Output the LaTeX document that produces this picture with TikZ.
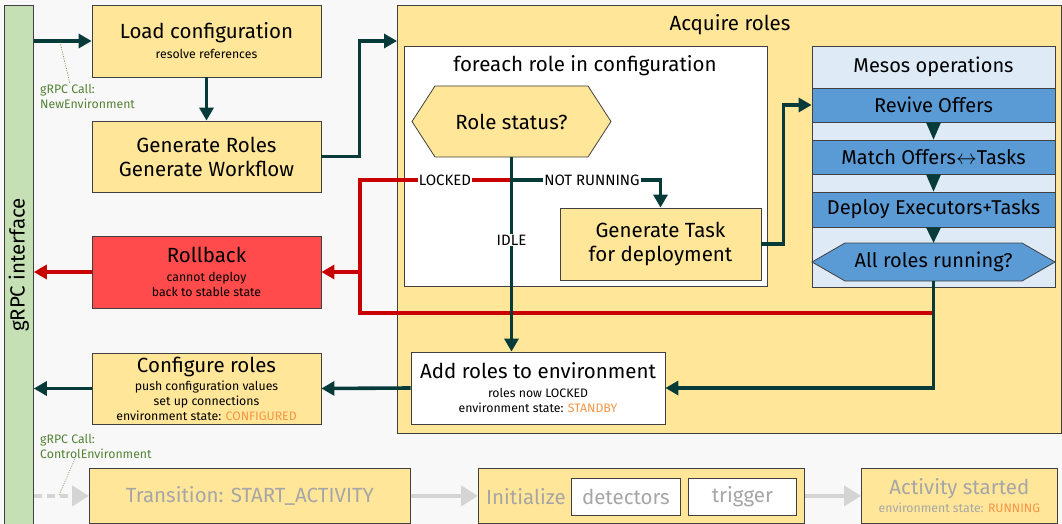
\documentclass[tikz,border=0pt]{standalone}
\usepackage{fontspec}
\setmainfont{Fira Sans}
\usetikzlibrary{arrows.meta,calc}

\definecolor{bgc}{HTML}{F8F8F8}
\definecolor{yel}{HTML}{FFE699}
\definecolor{grn}{HTML}{C5E0B4}
\definecolor{rbfill}{HTML}{FF4B4B}
\definecolor{teal}{HTML}{073B3A}
\definecolor{redl}{HTML}{C80000}
\definecolor{blu}{HTML}{5B9BD5}
\definecolor{lblu}{HTML}{DEEBF7}
\definecolor{orng}{HTML}{F79646}
\definecolor{lbl}{HTML}{548235}
\definecolor{faded}{HTML}{A6A6A6}
\definecolor{garrow}{HTML}{D4D4D4}
\definecolor{edge}{HTML}{404040}

\newcommand\bigf{\fontsize{20.5}{24}\selectfont}
\newcommand\midf{\fontsize{20}{23}\selectfont}
\newcommand\smf{\fontsize{12.3}{14.5}\selectfont}
\newcommand\lblf{\fontsize{12.3}{15}\selectfont}

\tikzset{
  box/.style={draw=edge, line width=0.8pt, inner sep=0pt, align=center, font=\bigf},
  ybox/.style={box, fill=yel},
  wbox/.style={box, fill=white},
  band/.style={box, fill=blu, font=\midf},
  flow/.style={draw=teal, line width=3.6pt, -{Triangle[length=13pt,width=14pt]}},
  flowline/.style={draw=teal, line width=3.6pt},
  redflow/.style={draw=redl, line width=3.2pt, -{Triangle[length=13pt,width=14pt]}},
  redline/.style={draw=redl, line width=3.2pt},
  ghost/.style={draw=garrow, line width=4pt, -{Triangle[length=17pt,width=20pt]}},
  tag/.style={fill=white, inner sep=1pt, font=\fontsize{15}{17}\selectfont},
  leader/.style={draw=lbl, line width=0.5pt, dash pattern=on 1.2pt off 1.2pt},
  calltxt/.style={text=lbl, font=\lblf, align=left, anchor=north west, inner sep=0pt},
}

\begin{document}
\begin{tikzpicture}[x=1pt, y=-1pt]
\useasboundingbox (0,0) rectangle (1062,524);
\fill[bgc] (0,0) rectangle (1062,524);

% gRPC side bar
\node[box, fill=grn, minimum width=29pt, minimum height=525pt, anchor=north west] (bar) at (4,5) {};
\node[rotate=90, font=\bigf] (bartxt) at (bar.center |- 0,265) {gRPC interface};

% left column
\node[ybox, minimum width=229pt, minimum height=72pt] (load) at (206.5,41)
  {Load configuration\\[-4pt]{\smf resolve references}};
\node[ybox, minimum width=229pt, minimum height=71pt] (gen) at (206.5,156.5)
  {Generate Roles\\Generate Workflow};
\node[box, fill=rbfill, minimum width=229pt, minimum height=72pt] (rollback) at (206.5,272)
  {Rollback\\[-5pt]{\smf cannot deploy}\\[-9pt]{\smf back to stable state}};
\node[ybox, minimum width=229pt, minimum height=71pt] (conf) at (206.5,388.5)
  {Configure roles\\[-6pt]{\smf push configuration values}\\[-9pt]{\smf set up connections}\\[-9pt]{\smf environment state: \textcolor{orng}{CONFIGURED}}};

% acquire roles container
\node[ybox, minimum width=664pt, minimum height=428pt, anchor=north west] (acq) at (397,5) {};
\node[font=\bigf] (acqtitle) at (730,25) {Acquire roles};

\node[wbox, minimum width=363pt, minimum height=240pt, anchor=north west] (each) at (404,46) {};
\node[font=\bigf] (eachtitle) at (585,66) {foreach role in configuration};

% role status decision
\fill[yel, draw=edge, line width=0.8pt] (412,121.5) -- (435,86) -- (588,86) -- (611,121.5) -- (588,157) -- (435,157) -- cycle;
\node[minimum width=199pt, minimum height=71pt, inner sep=0pt, font=\bigf] (rs) at (511.5,121.5) {Role status?};

\node[ybox, minimum width=201pt, minimum height=72pt] (task) at (660.5,244)
  {Generate Task\\for deployment};

% mesos operations
\node[box, fill=lblu, minimum width=243pt, minimum height=241pt, anchor=north west] (mesos) at (812,46) {};
\node[font=\midf] (mesostitle) at (933.5,67) {Mesos operations};
\node[band, minimum width=243pt, minimum height=34pt] (revive) at (933.5,105) {Revive Offers};
\node[band, minimum width=243pt, minimum height=34pt] (match) at (933.5,157) {Match Offers$\leftrightarrow$Tasks};
\node[band, minimum width=243pt, minimum height=35pt] (deploy) at (933.5,209.5) {Deploy Executors+Tasks};
\fill[blu, draw=edge, line width=0.8pt] (812,262) -- (845,243) -- (1022,243) -- (1055,262) -- (1022,281) -- (845,281) -- cycle;
\node[minimum width=243pt, minimum height=38pt, inner sep=0pt, font=\midf] (allrun) at (933.5,262) {All roles running?};

\foreach \a/\b in {revive/match, match/deploy, deploy/allrun}
  \fill[teal] ($(\a.south)+(-7.5,0)$) -- ($(\a.south)+(7.5,0)$) -- (\b.north) -- cycle;

% add roles
\node[wbox, minimum width=254pt, minimum height=72pt] (add) at (538,388)
  {Add roles to environment\\[-5pt]{\smf roles now LOCKED}\\[-9pt]{\smf environment state: \textcolor{orng}{STANDBY}}};

% bottom row (not yet reached)
\node[ybox, text=faded, minimum width=321pt, minimum height=55pt, anchor=north west] (trans) at (89,468) {Transition: START\_ACTIVITY};
\node[ybox, minimum width=326pt, minimum height=55pt, anchor=north west] (init) at (478,468) {};
\node[text=faded, font=\bigf] (inittxt) at (526,497) {Initialize};
\node[wbox, text=faded, minimum width=109pt, minimum height=37pt, anchor=north west] (det) at (571,478) {detectors};
\node[wbox, text=faded, minimum width=108pt, minimum height=37pt, anchor=north west] (trig) at (688,478) {trigger};
\node[ybox, text=faded, minimum width=196pt, minimum height=55pt, anchor=north west] (act) at (861,468)
  {Activity started\\[-6pt]{\smf environment state: \textcolor{orng}{RUNNING}}};

% coordinates for connector bends
\coordinate (split) at (511.5,180);
\coordinate (redcorner) at (360,180);
\coordinate (redlow) at (360,313);
\coordinate (redjoin) at (933.5,313);
\coordinate (redtap) at (360,272);

% failure paths
\draw[redline] (redjoin) -- (redlow) -- (redcorner) -- (split);
\draw[redflow] (redtap) -- (rollback.east);
\draw[redflow] (rollback.west) -- (bar.east |- rollback.west);
\node[tag] (locked) at (445,180) {LOCKED};

% main flow
\draw[flow] (bar.east |- load.west) -- (load.west);
\draw[flow] (load.south) -- (gen.north);
\draw[flow] (gen.east) -- ++(38,0) |- (acq.west |- load.west);
\draw[flow] (rs.south) -- (rs.south |- add.north);
\draw[flow] (split) -| (task.north);
\node[tag] (notrun) at (592,180) {NOT RUNNING};
\node[tag] (idle) at (511.5,240) {IDLE};
\draw[flow] (task.east) -- ++(22,0) |- (revive.west);
\draw[flow] (allrun.south) |- (add.east);
\draw[flow] (add.west) -- (conf.east);
\draw[flow] (conf.west) -- (bar.east |- conf.west);

% pending transitions
\draw[ghost, dash pattern=on 8pt off 5pt] (bar.east |- trans.west) -- (trans.west);
\draw[ghost] (trans.east) -- (init.west);
\draw[ghost] (init.east) -- (act.west);

% call annotations
\node[calltxt] (call1) at (40,84) {gRPC Call:\\NewEnvironment};
\draw[leader] (60,42) -- (call1.north -| 70,0);
\node[calltxt] (call2) at (40,434) {gRPC Call:\\ControlEnvironment};
\draw[leader] (call2.south -| 75,0) -- (59,495);
\end{tikzpicture}
\end{document}
